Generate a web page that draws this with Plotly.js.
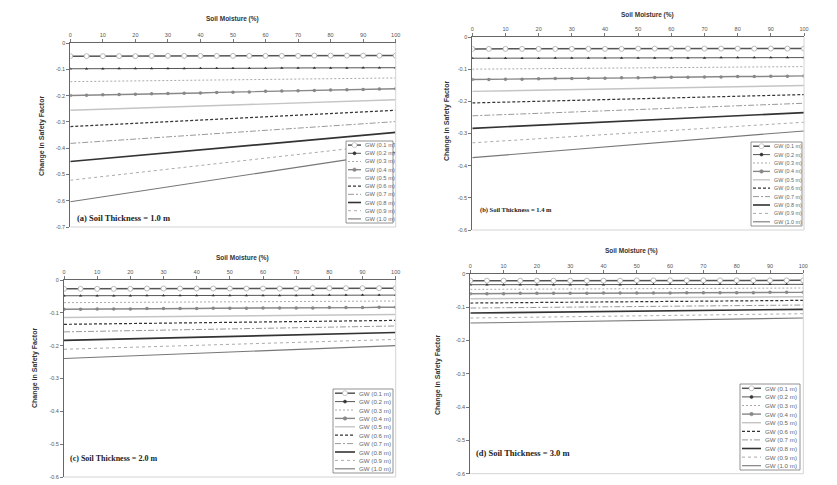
<!DOCTYPE html>
<html>
<head>
<meta charset="utf-8">
<script src="https://cdn.plot.ly/plotly-3.0.1.min.js"></script>
<style>
  body { margin: 0; background: #fff; }
  #chart { width: 837px; height: 485px; }
</style>
</head>
<body>
<div id="chart"></div>
<script>
// soil moisture (%) - marker series are sampled every 5 %, plain lines at the quarter points
const moistureFine = [0, 5, 10, 15, 20, 25, 30, 35, 40, 45, 50, 55, 60, 65, 70, 75, 80, 85, 90, 95, 100];
const moistureCoarse = [0, 25, 50, 75, 100];

const gwLabels = ['GW (0.1 m)', 'GW (0.2 m)', 'GW (0.3 m)', 'GW (0.4 m)', 'GW (0.5 m)',
                  'GW (0.6 m)', 'GW (0.7 m)', 'GW (0.8 m)', 'GW (0.9 m)', 'GW (1.0 m)'];
const panelLabels = ['(a) Soil Thickness = 1.0 m', '(b) Soil Thickness = 1.4 m',
                     '(c) Soil Thickness = 2.0 m', '(d) Soil Thickness = 3.0 m'];
const xTickVals = [0, 10, 20, 30, 40, 50, 60, 70, 80, 90, 100];
const yTickVals = [0, -0.1, -0.2, -0.3, -0.4, -0.5, -0.6, -0.7];
const yTickText = ['0', '-0.1', '-0.2', '-0.3', '-0.4', '-0.5', '-0.6', '-0.7'];

// (a) soil thickness 1.0 m
const a01 = [-0.050,-0.050,-0.050,-0.050,-0.050,-0.049,-0.049,-0.049,-0.049,-0.049,-0.049,-0.049,-0.049,-0.049,-0.049,-0.048,-0.048,-0.048,-0.048,-0.048,-0.048];
const a02 = [-0.098,-0.098,-0.098,-0.097,-0.097,-0.097,-0.097,-0.097,-0.096,-0.096,-0.096,-0.096,-0.096,-0.095,-0.095,-0.095,-0.095,-0.095,-0.094,-0.094,-0.094];
const a03 = [-0.147, -0.143, -0.140, -0.136, -0.133];
const a04 = [-0.200,-0.199,-0.197,-0.196,-0.195,-0.193,-0.192,-0.191,-0.190,-0.188,-0.187,-0.186,-0.184,-0.183,-0.182,-0.181,-0.179,-0.178,-0.177,-0.175,-0.174];
const a05 = [-0.256, -0.246, -0.236, -0.226, -0.216];
const a06 = [-0.318, -0.302, -0.287, -0.271, -0.256];
const a07 = [-0.382, -0.361, -0.340, -0.320, -0.299];
const a08 = [-0.451, -0.423, -0.395, -0.368, -0.340];
const a09 = [-0.522, -0.487, -0.452, -0.417, -0.382];
const a10 = [-0.604, -0.557, -0.510, -0.463, -0.416];

// (b) soil thickness 1.4 m
const b01 = [-0.037,-0.037,-0.037,-0.037,-0.037,-0.037,-0.037,-0.037,-0.037,-0.037,-0.036,-0.036,-0.036,-0.036,-0.036,-0.036,-0.036,-0.036,-0.036,-0.036,-0.036];
const b02 = [-0.066,-0.066,-0.066,-0.066,-0.066,-0.065,-0.065,-0.065,-0.065,-0.065,-0.065,-0.065,-0.065,-0.065,-0.065,-0.064,-0.064,-0.064,-0.064,-0.064,-0.064];
const b03 = [-0.100, -0.098, -0.096, -0.094, -0.092];
const b04 = [-0.132,-0.132,-0.131,-0.131,-0.130,-0.129,-0.129,-0.128,-0.128,-0.127,-0.127,-0.126,-0.125,-0.125,-0.124,-0.124,-0.123,-0.123,-0.122,-0.122,-0.121];
const b05 = [-0.169, -0.165, -0.160, -0.156, -0.151];
const b06 = [-0.205, -0.199, -0.192, -0.186, -0.179];
const b07 = [-0.245, -0.235, -0.226, -0.216, -0.206];
const b08 = [-0.284, -0.272, -0.260, -0.247, -0.235];
const b09 = [-0.329, -0.313, -0.297, -0.281, -0.265];
const b10 = [-0.375, -0.354, -0.334, -0.313, -0.292];

// (c) soil thickness 2.0 m
const c01 = [-0.027,-0.027,-0.027,-0.027,-0.027,-0.026,-0.026,-0.026,-0.026,-0.026,-0.026,-0.026,-0.026,-0.026,-0.026,-0.025,-0.025,-0.025,-0.025,-0.025,-0.025];
const c02 = [-0.048,-0.048,-0.048,-0.048,-0.048,-0.047,-0.047,-0.047,-0.047,-0.047,-0.047,-0.047,-0.047,-0.047,-0.047,-0.046,-0.046,-0.046,-0.046,-0.046,-0.046];
const c03 = [-0.069, -0.068, -0.067, -0.065, -0.064];
const c04 = [-0.089,-0.089,-0.088,-0.088,-0.088,-0.087,-0.087,-0.087,-0.087,-0.086,-0.086,-0.086,-0.085,-0.085,-0.085,-0.085,-0.084,-0.084,-0.084,-0.083,-0.083];
const c05 = [-0.114, -0.112, -0.110, -0.107, -0.105];
const c06 = [-0.135, -0.132, -0.129, -0.126, -0.123];
const c07 = [-0.158, -0.154, -0.149, -0.145, -0.140];
const c08 = [-0.184, -0.178, -0.172, -0.166, -0.160];
const c09 = [-0.211, -0.204, -0.196, -0.189, -0.181];
const c10 = [-0.239, -0.229, -0.220, -0.210, -0.200];

// (d) soil thickness 3.0 m
const d01 = [-0.021,-0.021,-0.021,-0.021,-0.021,-0.021,-0.021,-0.021,-0.021,-0.021,-0.020,-0.020,-0.020,-0.020,-0.020,-0.020,-0.020,-0.020,-0.020,-0.020,-0.020];
const d02 = [-0.033,-0.033,-0.033,-0.033,-0.033,-0.033,-0.033,-0.033,-0.033,-0.033,-0.032,-0.032,-0.032,-0.032,-0.032,-0.032,-0.032,-0.032,-0.032,-0.032,-0.032];
const d03 = [-0.047, -0.046, -0.045, -0.044, -0.043];
const d04 = [-0.060,-0.060,-0.060,-0.059,-0.059,-0.059,-0.059,-0.059,-0.058,-0.058,-0.058,-0.058,-0.058,-0.057,-0.057,-0.057,-0.057,-0.057,-0.056,-0.056,-0.056];
const d05 = [-0.075, -0.074, -0.072, -0.071, -0.069];
const d06 = [-0.088, -0.086, -0.084, -0.082, -0.080];
const d07 = [-0.103, -0.101, -0.099, -0.096, -0.094];
const d08 = [-0.118, -0.115, -0.113, -0.110, -0.107];
const d09 = [-0.133, -0.130, -0.127, -0.123, -0.120];
const d10 = [-0.148, -0.144, -0.141, -0.137, -0.133];

const panelSeries = [
  [a01, a02, a03, a04, a05, a06, a07, a08, a09, a10],
  [b01, b02, b03, b04, b05, b06, b07, b08, b09, b10],
  [c01, c02, c03, c04, c05, c06, c07, c08, c09, c10],
  [d01, d02, d03, d04, d05, d06, d07, d08, d09, d10]
];
const yMins = [-0.7, -0.6, -0.6, -0.6];

// greyscale styles for the ten groundwater depths
const styles = [
  { mode: 'lines+markers', line: { color: '#555', width: 1.5 }, marker: { symbol: 'circle', size: 5, color: '#fff', line: { color: '#aaa', width: 0.8 } } },
  { mode: 'lines+markers', line: { color: '#555', width: 1 }, marker: { symbol: 'triangle-up', size: 3, color: '#333' } },
  { mode: 'lines', line: { color: '#aaa', width: 1, dash: '2px,2px' } },
  { mode: 'lines+markers', line: { color: '#888', width: 1.4 }, marker: { symbol: 'circle', size: 3.5, color: '#888' } },
  { mode: 'lines', line: { color: '#c4c4c4', width: 1.4 } },
  { mode: 'lines', line: { color: '#333', width: 1.2, dash: '3px,2px' } },
  { mode: 'lines', line: { color: '#999', width: 1, dash: '6px,2px,2px,2px' } },
  { mode: 'lines', line: { color: '#333', width: 1.6 } },
  { mode: 'lines', line: { color: '#aaa', width: 1, dash: 'dot' } },
  { mode: 'lines', line: { color: '#777', width: 1.1 } }
];
const fineIdx = [0, 1, 3];

// pixel geometry of each panel (plot area, titles, label, legend)
const W = 837, H = 485;
const geo = [
  { plot: [70.3, 395.7, 43, 227], xt: [232, 19], yt: [42, 136], lab: [75, 218, 8.5], leg: [346, 393, 141, 223, 13, 5.8] },
  { plot: [472.3, 804, 37, 230], xt: [647, 15], yt: [447, 121], lab: [478, 210, 6.5], leg: [751, 802, 142, 226, 17, 5.4] },
  { plot: [64, 395.7, 280, 477], xt: [242, 258], yt: [35, 368], lab: [68, 458, 8], leg: [333, 393, 389, 473, 20, 6.2] },
  { plot: [470.3, 803.3, 273.7, 473.7], xt: [631, 251], yt: [438, 375], lab: [474, 453, 8.5], leg: [740, 800, 384, 470, 19, 6.2] }
];
const px = v => v / W;
const py = v => 1 - v / H;

const traces = [];
const layout = {
  width: W, height: H,
  margin: { l: 0, r: 0, t: 0, b: 0 },
  paper_bgcolor: '#fff', plot_bgcolor: '#fff',
  showlegend: false,
  font: { family: 'Liberation Sans, Arial, sans-serif', color: '#444' },
  shapes: [], annotations: []
};

panelSeries.forEach((series, p) => {
  const sfx = p === 0 ? '' : String(p + 1);
  const g = geo[p];
  series.forEach((ys, j) => {
    traces.push(Object.assign({
      type: 'scatter',
      x: fineIdx.includes(j) ? moistureFine : moistureCoarse,
      y: ys,
      name: gwLabels[j],
      xaxis: 'x' + sfx, yaxis: 'y' + sfx,
      hoverinfo: 'skip'
    }, styles[j]));
  });

  const nt = Math.round(-yMins[p] * 10) + 1;
  layout['xaxis' + sfx] = {
    domain: [px(g.plot[0]), px(g.plot[1])],
    anchor: 'y' + sfx, side: 'top',
    range: [0, 100], tickvals: xTickVals,
    ticks: 'outside', ticklen: 3, tickcolor: '#777',
    showline: true, linecolor: '#666', linewidth: 1,
    showgrid: false, zeroline: false,
    tickfont: { size: 5.5, color: '#555' }
  };
  layout['yaxis' + sfx] = {
    domain: [py(g.plot[3]), py(g.plot[2])],
    anchor: 'x' + sfx,
    range: [yMins[p], 0],
    tickvals: yTickVals.slice(0, nt), ticktext: yTickText.slice(0, nt),
    ticks: 'outside', ticklen: 3, tickcolor: '#777',
    showline: true, linecolor: '#666', linewidth: 1,
    showgrid: false, zeroline: false,
    tickfont: { size: 5.5, color: '#555' }
  };

  // faint right and bottom frame
  layout.shapes.push(
    { type: 'line', xref: 'paper', yref: 'paper', x0: px(g.plot[1]), x1: px(g.plot[1]), y0: py(g.plot[2]), y1: py(g.plot[3]), line: { color: '#d4d4d4', width: 1 } },
    { type: 'line', xref: 'paper', yref: 'paper', x0: px(g.plot[0]), x1: px(g.plot[1]), y0: py(g.plot[3]), y1: py(g.plot[3]), line: { color: '#d4d4d4', width: 1 } }
  );

  // titles
  layout.annotations.push(
    { xref: 'paper', yref: 'paper', x: px(g.xt[0]), y: py(g.xt[1]), text: '<b>Soil Moisture (%)</b>', showarrow: false, xanchor: 'center', yanchor: 'middle', font: { size: 6.5, color: '#333' } },
    { xref: 'paper', yref: 'paper', x: px(g.yt[0]), y: py(g.yt[1]), text: '<b>Change in Safety Factor</b>', textangle: -90, showarrow: false, xanchor: 'center', yanchor: 'middle', font: { size: 7, color: '#333' } },
    { xref: 'paper', yref: 'paper', x: px(g.lab[0]), y: py(g.lab[1]), text: '<b>' + panelLabels[p] + '</b>', showarrow: false, xanchor: 'left', yanchor: 'middle', font: { family: 'Liberation Serif, Times New Roman, serif', size: g.lab[2], color: '#222' } }
  );

  // hand-drawn compact legend
  const [lx0, lx1, ly0, ly1, sampleLen, fs] = g.leg;
  layout.shapes.push({ type: 'rect', xref: 'paper', yref: 'paper', x0: px(lx0), x1: px(lx1), y0: py(ly1), y1: py(ly0), line: { color: '#777', width: 0.8 }, fillcolor: '#fff' });
  const rowH = (ly1 - ly0) / 10;
  gwLabels.forEach((lab, j) => {
    const cy = ly0 + (j + 0.5) * rowH;
    const sx0 = lx0 + 2, sx1 = lx0 + 2 + sampleLen;
    const st = styles[j];
    layout.shapes.push({ type: 'line', xref: 'paper', yref: 'paper', x0: px(sx0), x1: px(sx1), y0: py(cy), y1: py(cy), line: { color: st.line.color, width: st.line.width, dash: st.line.dash || 'solid' } });
    if (st.marker) {
      const r = st.marker.size / 2;
      const mx = (sx0 + sx1) / 2;
      layout.shapes.push({ type: 'circle', xref: 'paper', yref: 'paper', x0: px(mx - r), x1: px(mx + r), y0: py(cy + r), y1: py(cy - r), fillcolor: st.marker.color, line: { color: st.marker.line ? st.marker.line.color : st.marker.color, width: 0.6 } });
    }
    layout.annotations.push({ xref: 'paper', yref: 'paper', x: px(sx1 + 1.5), y: py(cy), text: lab, showarrow: false, xanchor: 'left', yanchor: 'middle', font: { size: fs, color: '#666' } });
  });
});

Plotly.newPlot('chart', traces, layout, { staticPlot: true, displayModeBar: false });
</script>
</body>
</html>
